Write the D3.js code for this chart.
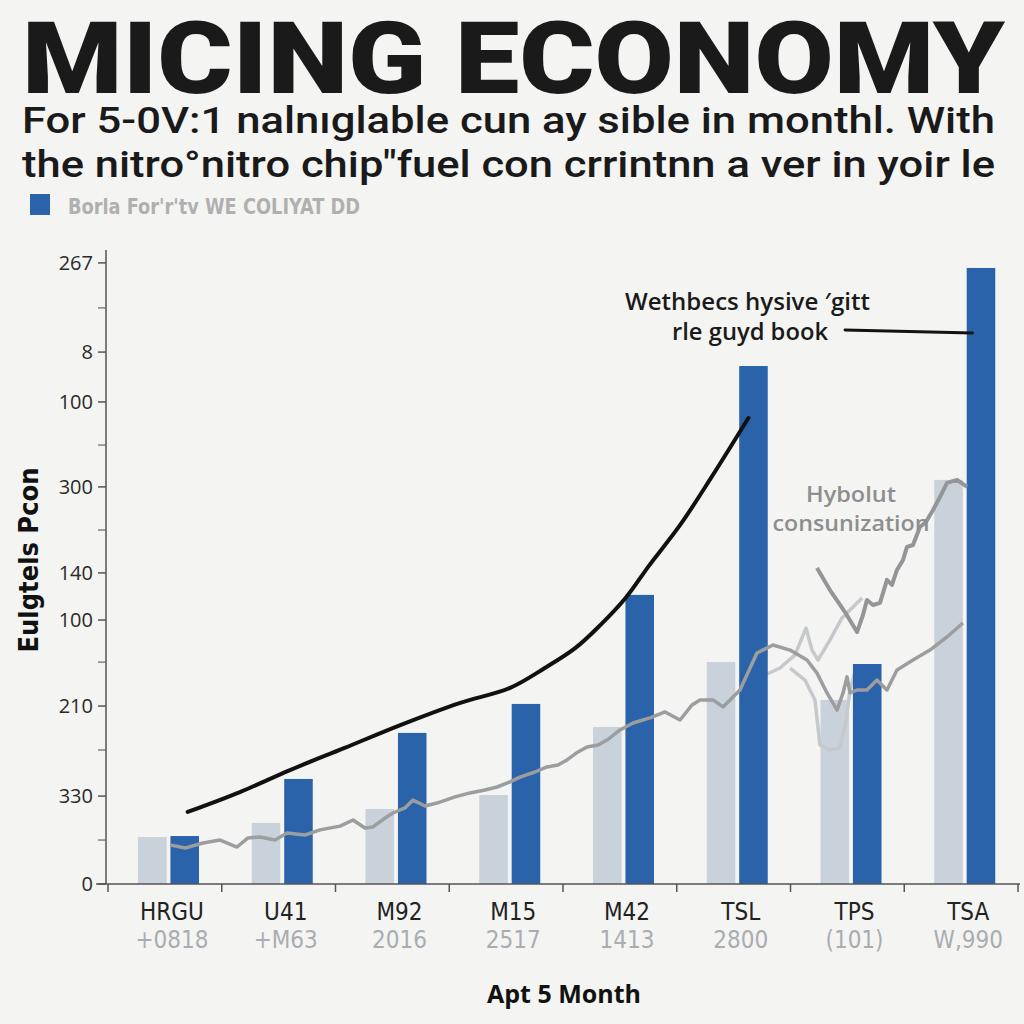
<!DOCTYPE html>
<html>
<head>
<meta charset="utf-8">
<script src="https://cdn.jsdelivr.net/npm/d3@7/dist/d3.min.js"></script>
<style>
  html, body { margin: 0; padding: 0; background: #f4f4f2; }
  svg { display: block; }
</style>
</head>
<body>
<svg id="chart" width="1024" height="1024"></svg>
<script>
// ---------- DATA ----------
const categories = ["HRGU", "U41", "M92", "M15", "M42", "TSL", "TPS", "TSA"];
const subLabels = ["+0818", "+M63", "2016", "2517", "1413", "2800", "(101)", "W,990"];
const grayValues = [22.2, 28.9, 35.5, 42.1, 74.3, 105.0, 87.1, 191.2];
const blueValues = [22.7, 49.7, 71.5, 85.2, 136.8, 245.1, 104.1, 291.5];

const yTickValues = [0, 41.6, 84.2, 124.9, 147.2, 187.9, 228.1, 251.7, 293.9];
const yTickLabels = ["0", "330", "210", "100", "140", "300", "100", "8", "267"];
const yMinorTicks = [20.8, 63.4, 105.0, 167.5, 207.7, 272.6];

// line series: [month position, value]
const blackLine = [[0.70,34.1],[1.16,43.5],[1.60,53.9],[2.08,64.4],[2.57,75.2],[3.09,85.6],[3.53,92.7],[3.84,102.2],[4.11,111.7],[4.33,122.6],[4.55,135.3],[4.76,150.9],[5.03,169.9],[5.29,191.2],[5.63,220.5]];
const grayLineLow = [[0.545,18.5],[0.677,17.0],[0.835,19.4],[0.985,20.8],[1.134,17.5],[1.231,21.8],[1.336,22.2],[1.468,20.8],[1.574,24.1],[1.732,23.2],[1.864,25.6],[2.040,27.4],[2.154,30.3],[2.259,26.5],[2.330,27.0],[2.435,31.2],[2.505,33.6],[2.611,36.0],[2.681,39.7],[2.787,36.9],[2.892,38.3],[3.051,41.2],[3.182,43.1],[3.314,44.5],[3.420,45.9],[3.534,48.3],[3.622,50.6],[3.754,53.0],[3.859,55.4],[3.956,56.3],[4.035,58.7],[4.132,62.5],[4.211,64.8],[4.308,65.8],[4.387,68.1],[4.501,72.9],[4.615,76.2],[4.765,78.6],[4.897,81.4],[5.029,77.6],[5.134,84.7],[5.204,87.1],[5.319,87.1],[5.407,83.8],[5.556,91.8],[5.705,109.3],[5.846,113.1],[5.996,110.7],[6.145,106.0],[6.233,99.8],[6.321,90.4],[6.409,82.3],[6.462,90.4],[6.497,98.0],[6.523,90.4],[6.585,91.8],[6.672,91.8],[6.760,96.5],[6.848,91.8],[6.936,101.3],[7.077,106.0],[7.226,110.7],[7.376,116.9],[7.516,123.5]];
const grayLineHigh = [[6.233,149.5],[6.347,139.1],[6.479,128.7],[6.585,119.2],[6.637,127.3],[6.672,134.4],[6.725,132.0],[6.787,133.0],[6.848,143.9],[6.892,141.5],[6.936,148.6],[6.989,153.3],[7.024,159.5],[7.077,160.4],[7.138,168.9],[7.191,171.3],[7.253,177.0],[7.314,183.1],[7.376,189.8],[7.464,191.2],[7.552,187.9]];
const lightLineA = [[5.776,98.9],[5.908,102.2],[6.040,108.4],[6.136,121.1],[6.189,110.7],[6.242,106.0],[6.347,115.5],[6.453,125.9],[6.567,132.0],[6.629,135.3]];
const lightLineB = [[5.996,102.2],[6.127,96.5],[6.215,87.1],[6.259,65.8],[6.347,63.4],[6.435,64.4],[6.488,77.6],[6.523,91.8],[6.576,102.2]];
const calloutLine = [[6.48,262.2],[7.60,260.7]];

const titleText = "MICING ECONOMY";
const subtitleLines = ["For 5-0V:1 nalnıglable cun ay sible in monthl. With", "the nitro°nitro chip″fuel con crrintnn a ver in yoir le"];
const legendText = "Borla For'r'tv WE COLIYAT DD";
const calloutText = ["Wethbecs hysive ′gitt", "rle guyd book"];
const hybridText = ["Hybolut", "consunization"];
const yTitle = "Eulgtels Pcon";
const xTitle = "Apt 5 Month";

// ---------- LAYOUT ----------
const svg = d3.select("#chart");
const X0 = 108, X1 = 1018, Y0 = 884, Y1 = 250;
const blue = "#2b63aa", grayBar = "#c9d1da";

const x = d3.scaleBand().domain(categories).range([X0, X1]).padding(0);
const xs = d3.scaleBand().domain(["gray", "blue"]).range([30, 91]).paddingInner(0.12);
const xt = d3.scaleLinear().domain([0, categories.length]).range([X0, X1]);
const y = d3.scaleLinear().domain([0, 300]).range([Y0, Y1]);

svg.append("rect").attr("width", 1024).attr("height", 1024).attr("fill", "#f4f4f2");

// header block: title + subtitle
const header = svg.append("text").attr("fill", "#1a1a1a");
header.append("tspan").attr("x", 22).attr("y", 93)
  .attr("font-family", "Roboto, 'Open Sans', sans-serif").attr("font-weight", 900)
  .attr("font-size", 100)
  .attr("textLength", 983).attr("lengthAdjust", "spacingAndGlyphs").text(titleText);
subtitleLines.forEach((s, i) => {
  header.append("tspan").attr("x", 22).attr("y", 133 + i * 44)
    .attr("font-family", "Roboto, 'Noto Sans', sans-serif").attr("font-weight", 500)
    .attr("font-size", 37)
    .attr("textLength", 973).attr("lengthAdjust", "spacingAndGlyphs").text(s);
});

// legend
svg.append("rect").attr("x", 30).attr("y", 194).attr("width", 20).attr("height", 21).attr("fill", blue);
svg.append("text").attr("x", 68).attr("y", 214)
  .attr("font-family", "'Liberation Sans Narrow', 'DejaVu Sans Condensed', sans-serif").attr("font-weight", 700)
  .attr("font-size", 22).attr("fill", "#b0b0b0")
  .attr("textLength", 292).attr("lengthAdjust", "spacingAndGlyphs").text(legendText);

// bars
const g = svg.append("g");
g.selectAll(".gbar").data(categories).join("rect")
  .attr("x", d => x(d) + xs("gray")).attr("width", xs.bandwidth())
  .attr("y", (d, i) => y(grayValues[i])).attr("height", (d, i) => Y0 - y(grayValues[i]))
  .attr("fill", grayBar);

// lines
const line = d3.line().x(d => xt(d[0])).y(d => y(d[1]));
g.append("path").datum(lightLineB).attr("d", line).attr("fill", "none").attr("stroke", "#c6c9cc").attr("stroke-width", 3.5).attr("stroke-linejoin", "round");
g.append("path").datum(lightLineA).attr("d", line).attr("fill", "none").attr("stroke", "#c6c9cc").attr("stroke-width", 3.5).attr("stroke-linejoin", "round");

g.selectAll(".bbar").data(categories).join("rect")
  .attr("x", d => x(d) + xs("blue")).attr("width", xs.bandwidth())
  .attr("y", (d, i) => y(blueValues[i])).attr("height", (d, i) => Y0 - y(blueValues[i]))
  .attr("fill", blue);

g.append("path").datum(grayLineLow).attr("d", line).attr("fill", "none").attr("stroke", "#9b9d9f").attr("stroke-width", 3.5).attr("stroke-linejoin", "round");
g.append("path").datum(grayLineHigh).attr("d", line).attr("fill", "none").attr("stroke", "#939597").attr("stroke-width", 4).attr("stroke-linejoin", "round");
g.append("path").datum(blackLine).attr("d", d3.line().curve(d3.curveCatmullRom).x(d => xt(d[0])).y(d => y(d[1])))
  .attr("fill", "none").attr("stroke", "#111").attr("stroke-width", 4).attr("stroke-linecap", "round");
g.append("path").datum(calloutLine).attr("d", line).attr("fill", "none").attr("stroke", "#111").attr("stroke-width", 3).attr("stroke-linecap", "round");

// y axis
const yAxis = svg.append("g").attr("transform", `translate(106,0)`);
yAxis.append("line").attr("x1", 0).attr("x2", 0).attr("y1", Y1).attr("y2", Y0).attr("stroke", "#555").attr("stroke-width", 1.5);
yAxis.selectAll(".ymaj").data(yTickValues).join("line")
  .attr("x1", -8).attr("x2", 0).attr("y1", d => y(d)).attr("y2", d => y(d)).attr("stroke", "#555").attr("stroke-width", 1.5);
yAxis.selectAll(".ymin").data(yMinorTicks).join("line")
  .attr("x1", -8).attr("x2", 0).attr("y1", d => y(d)).attr("y2", d => y(d)).attr("stroke", "#666").attr("stroke-width", 1.2);
yAxis.selectAll(".ylab").data(yTickValues).join("text")
  .attr("x", -13).attr("y", d => y(d) + 7).attr("text-anchor", "end")
  .attr("font-family", "'Open Sans', 'Noto Sans', sans-serif").attr("font-size", 20).attr("fill", "#2a2a2a")
  .text((d, i) => yTickLabels[i]);

// x axis
const xAxis = svg.append("g").attr("transform", `translate(0,${Y0})`);
xAxis.append("line").attr("x1", 96).attr("x2", 1020).attr("y1", 0).attr("y2", 0).attr("stroke", "#555").attr("stroke-width", 1.5);
xAxis.selectAll(".xt").data(d3.range(categories.length + 1)).join("line")
  .attr("x1", d => xt(d)).attr("x2", d => xt(d)).attr("y1", 0).attr("y2", 8).attr("stroke", "#555").attr("stroke-width", 1.5);
xAxis.selectAll(".xl").data(categories).join("text")
  .attr("x", d => x(d) + 64).attr("y", 36).attr("text-anchor", "middle")
  .attr("font-family", "'Liberation Sans Narrow', 'DejaVu Sans Condensed', sans-serif").attr("font-size", 24).attr("fill", "#222")
  .text(d => d);
xAxis.selectAll(".xs").data(categories).join("text")
  .attr("x", d => x(d) + 64).attr("y", 64).attr("text-anchor", "middle")
  .attr("font-family", "'Liberation Sans Narrow', 'DejaVu Sans Condensed', sans-serif").attr("font-size", 24).attr("fill", "#a9adb1")
  .text((d, i) => subLabels[i]);

// axis titles
svg.append("text").attr("transform", "translate(38,560) rotate(-90)").attr("text-anchor", "middle")
  .attr("font-family", "'Liberation Sans Narrow', 'DejaVu Sans Condensed', sans-serif").attr("font-weight", 700)
  .attr("font-size", 27).attr("fill", "#111").text(yTitle);
svg.append("text").attr("x", 564).attr("y", 1003).attr("text-anchor", "middle")
  .attr("font-family", "'Open Sans', 'Noto Sans', sans-serif").attr("font-weight", 700)
  .attr("font-size", 25).attr("fill", "#111").text(xTitle);

// annotations
svg.selectAll(".call").data(calloutText).join("text")
  .attr("x", (d, i) => i === 0 ? 625 : 672).attr("y", (d, i) => 310 + i * 30)
  .attr("font-family", "'Open Sans', 'Noto Sans', sans-serif").attr("font-weight", 600)
  .attr("font-size", 23).attr("fill", "#1a1a1a")
  .attr("textLength", (d, i) => i === 0 ? 245 : 156).attr("lengthAdjust", "spacingAndGlyphs").text(d => d);
svg.selectAll(".hyb").data(hybridText).join("text")
  .attr("x", 851).attr("y", (d, i) => 502 + i * 29).attr("text-anchor", "middle")
  .attr("font-family", "'Open Sans', 'Noto Sans', sans-serif").attr("font-weight", 600)
  .attr("font-size", 22).attr("fill", "#8c8e90")
  .attr("textLength", (d, i) => i === 0 ? 90 : 157).attr("lengthAdjust", "spacingAndGlyphs").text(d => d);
</script>
</body>
</html>
